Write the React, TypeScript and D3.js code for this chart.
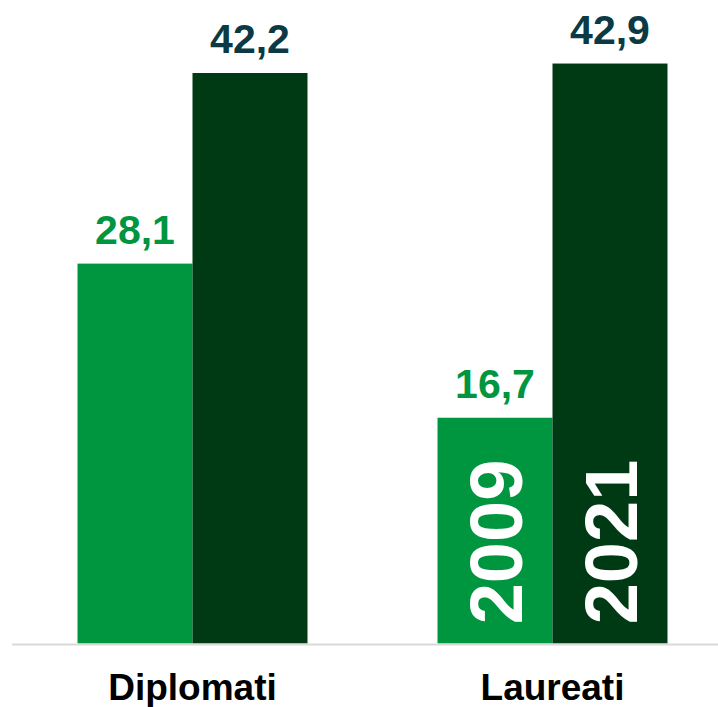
import React from "react";
import * as d3 from "d3";

const categories = ["Diplomati", "Laureati"];
const series = ["2009", "2021"];
const values2009 = [28.1, 16.7];
const values2021 = [42.2, 42.9];
const valueLabels2009 = ["28,1", "16,7"];
const valueLabels2021 = ["42,2", "42,9"];

const W = 718;
const H = 707;
const baseline = 643.5;
const colors = ["#00953F", "#003A15"];
const labelColors = ["#00953F", "#0B3A45"];
const font = "'Liberation Sans', Arial, sans-serif";

export default function App() {
  const x0 = d3
    .scaleBand<string>()
    .domain(categories)
    .range([12.5, 732.5])
    .paddingInner(130 / 360)
    .paddingOuter(65 / 360);
  const x1 = d3.scaleBand<string>().domain(series).range([0, x0.bandwidth()]);
  const y = d3.scaleLinear().domain([0, 47.6]).range([baseline, 0]);

  const data = [values2009, values2021];
  const labels = [valueLabels2009, valueLabels2021];

  return (
    <svg
      width={W}
      height={H}
      style={{ position: "absolute", left: 0, top: 0, background: "#fff" }}
    >
      {categories.map((c, ci) => (
        <g key={c} transform={`translate(${x0(c)},0)`}>
          {series.map((s, si) => {
            const v = data[si][ci];
            const bx = x1(s)!;
            const bw = x1.bandwidth();
            return (
              <g key={s}>
                <rect
                  x={bx}
                  y={y(v)}
                  width={bw}
                  height={baseline - y(v)}
                  fill={colors[si]}
                />
                <text
                  x={bx + bw / 2}
                  y={y(v) - 20}
                  textAnchor="middle"
                  fontFamily={font}
                  fontWeight="bold"
                  fontSize={41}
                  fill={labelColors[si]}
                >
                  {labels[si][ci]}
                </text>
                {ci === categories.length - 1 && (
                  <text
                    transform={`translate(${bx + bw / 2 + 27},542) rotate(-90)`}
                    textAnchor="middle"
                    fontFamily={font}
                    fontWeight="bold"
                    fontSize={74}
                    fill="#fff"
                  >
                    {s}
                  </text>
                )}
              </g>
            );
          })}
          <text
            x={x0.bandwidth() / 2}
            y={700}
            textAnchor="middle"
            fontFamily={font}
            fontWeight="bold"
            fontSize={37}
            fill="#000"
          >
            {c}
          </text>
        </g>
      ))}
      <line x1={12} x2={W} y1={644.5} y2={644.5} stroke="#D9D9D9" strokeWidth={2} />
    </svg>
  );
}
